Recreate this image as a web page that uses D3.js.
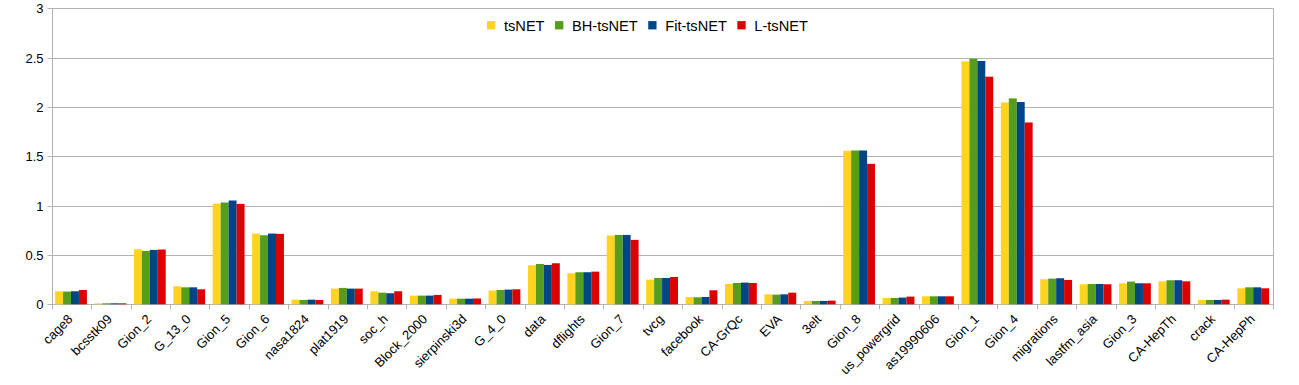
<!DOCTYPE html>
<html><head><meta charset="utf-8">
<script src="https://cdn.jsdelivr.net/npm/d3@7"></script>
<style>html,body{margin:0;padding:0;background:#fff;}svg{display:block;font-family:"Liberation Sans",Arial,sans-serif;}</style>
</head><body>
<svg id="c" width="1299" height="385"></svg>
<script>
const categories = ["cage8","bcsstk09","Gion_2","G_13_0","Gion_5","Gion_6","nasa1824","plat1919","soc_h","Block_2000","sierpinski3d","G_4_0","data","dflights","Gion_7","tvcg","facebook","CA-GrQc","EVA","3elt","Gion_8","us_powergrid","as19990606","Gion_1","Gion_4","migrations","lastfm_asia","Gion_3","CA-HepTh","crack","CA-HepPh"];
const seriesNames = ["tsNET","BH-tsNET","Fit-tsNET","L-tsNET"];
const tsNET    = [0.132,0.010,0.558,0.183,1.021,0.717,0.047,0.159,0.132,0.088,0.057,0.139,0.396,0.315,0.697,0.250,0.074,0.206,0.101,0.034,1.556,0.064,0.081,2.462,2.046,0.254,0.203,0.213,0.233,0.044,0.162];
const bhTsNET  = [0.129,0.010,0.541,0.172,1.032,0.700,0.044,0.166,0.118,0.088,0.057,0.145,0.409,0.325,0.703,0.267,0.071,0.216,0.098,0.034,1.559,0.064,0.081,2.489,2.087,0.260,0.206,0.230,0.244,0.044,0.172];
const fitTsNET = [0.132,0.010,0.551,0.172,1.052,0.717,0.047,0.159,0.112,0.088,0.057,0.149,0.399,0.325,0.703,0.267,0.074,0.220,0.101,0.034,1.559,0.068,0.081,2.466,2.050,0.264,0.206,0.213,0.244,0.044,0.172];
const lTsNET   = [0.145,0.010,0.555,0.152,1.018,0.714,0.044,0.159,0.132,0.095,0.059,0.152,0.416,0.331,0.653,0.277,0.142,0.216,0.118,0.037,1.424,0.078,0.081,2.307,1.843,0.247,0.203,0.213,0.233,0.047,0.162];
const yTicks = [0,0.5,1,1.5,2,2.5,3];
const yTickLabels = ["0","0.5","1","1.5","2","2.5","3"];
const colors = ["#FFD320","#579D1C","#004586","#DD0000"];

const seriesValues = [tsNET,bhTsNET,fitTsNET,lTsNET];
const svg = d3.select("#c");
const L = 51.7, R = 1273.3, T = 8.3, B = 304.3;
const grid = "#b3b3b3";

const x = d3.scaleBand().domain(categories).range([L,R]).paddingInner(0).paddingOuter(0);
const y = d3.scaleLinear().domain([0,3]).range([B,T]);
const inner = d3.scaleBand().domain(seriesNames).range([3.4, 3.4+4*7.95]);

// gridlines
svg.append("g").selectAll("line").data(yTicks).join("line")
  .attr("x1",L).attr("x2",R).attr("y1",d=>Math.round(y(d))+0.5).attr("y2",d=>Math.round(y(d))+0.5)
  .attr("stroke",grid).attr("stroke-width",1);

// bars
const g = svg.append("g");
categories.forEach((c,i)=>{
  seriesNames.forEach((s,j)=>{
    const v = seriesValues[j][i];
    g.append("rect")
      .attr("x", x(c)+inner(s)).attr("width", inner.bandwidth())
      .attr("y", y(v)).attr("height", B - y(v))
      .attr("fill", colors[j]);
  });
});

// y axis
const yAxis = d3.axisLeft(y).tickValues(yTicks).tickFormat((d,i)=>yTickLabels[i]).tickSize(5).tickPadding(4);
const ya = svg.append("g").attr("transform",`translate(${Math.round(L)+0.5},0)`).call(yAxis);
ya.select(".domain").attr("stroke",grid).attr("d",`M0,${T}V${B}`);
ya.selectAll(".tick line").attr("stroke",grid);
ya.selectAll("text").attr("font-size","13px").attr("fill","#000").attr("font-family","Liberation Sans, Arial, sans-serif");
ya.selectAll(".tick").attr("transform",d=>`translate(0,${Math.round(y(d))+0.5})`);

// right border
svg.append("line").attr("x1",Math.round(R)+0.5).attr("x2",Math.round(R)+0.5).attr("y1",T).attr("y2",B+5).attr("stroke",grid);

// category ticks
const bounds = categories.map(c=>x(c)).concat([R]);
svg.append("g").selectAll("line").data(bounds).join("line")
  .attr("x1",d=>Math.round(d)+0.5).attr("x2",d=>Math.round(d)+0.5)
  .attr("y1",B).attr("y2",B+5).attr("stroke",grid);

// category labels
svg.append("g").selectAll("text").data(categories).join("text")
  .attr("transform",c=>`translate(${x(c)+x.bandwidth()/2+2},${320}) rotate(-45)`)
  .attr("text-anchor","end").attr("font-size","13px").attr("fill","#000")
  .text(c=>c);

// legend
const lg = svg.append("g");
let cx = 0;
seriesNames.forEach((s,j)=>{
  const it = lg.append("g");
  it.append("rect").attr("x",0).attr("y",-4.2).attr("width",8.3).attr("height",8.3).attr("fill",colors[j]);
  const t = it.append("text").attr("x",17).attr("y",5.3).attr("font-size","14.6px").attr("fill","#000").text(s);
  const w = t.node().getComputedTextLength();
  it.attr("transform",`translate(${cx},25.3)`);
  cx += 17 + w + 10.5;
});
lg.attr("transform",`translate(487,0)`);
</script>
</body></html>
